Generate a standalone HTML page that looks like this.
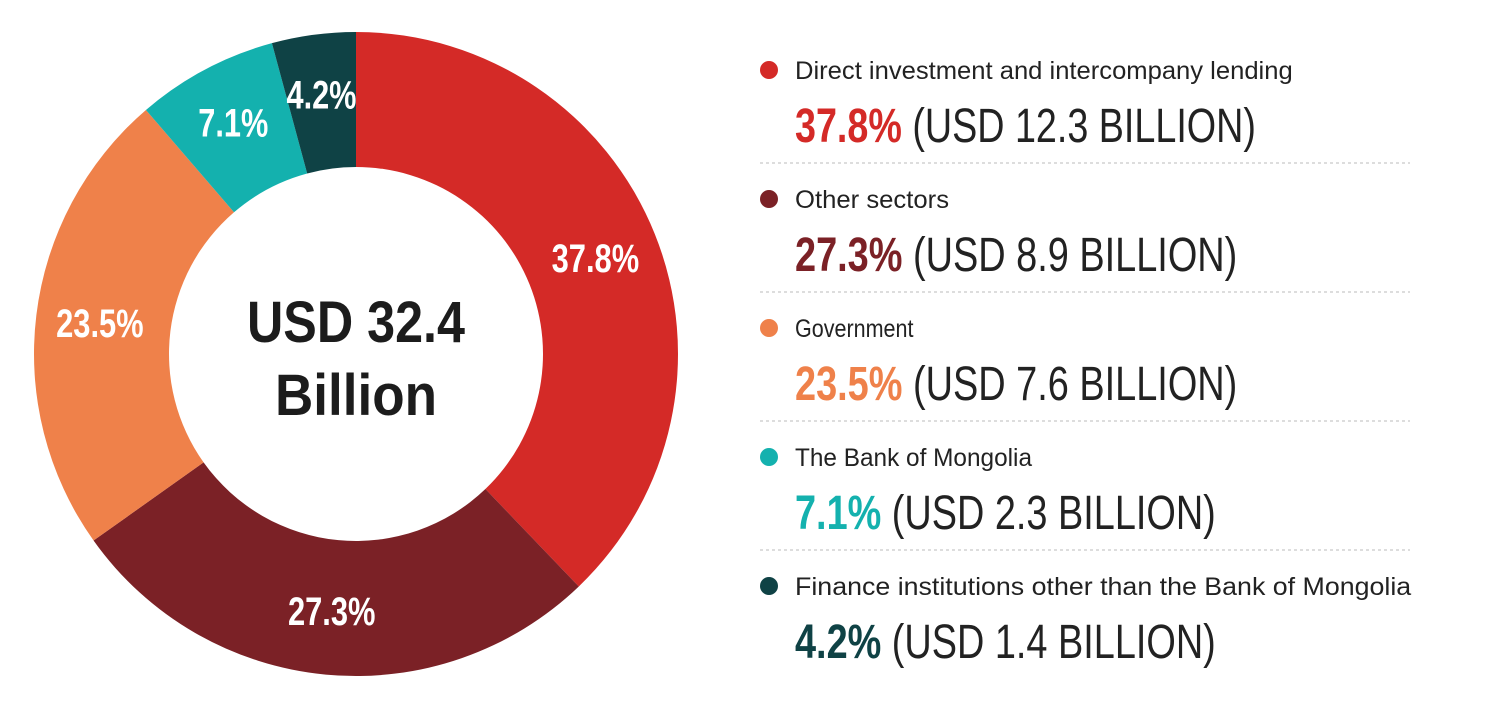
<!DOCTYPE html>
<html><head><meta charset="utf-8">
<style>
html,body{margin:0;padding:0;background:#fff;width:1500px;height:709px;overflow:hidden}
svg{display:block}
text{font-family:"Liberation Sans",sans-serif}
</style></head>
<body>
<svg id="chart" width="1500" height="709" viewBox="0 0 1500 709">
<g id="donut"></g>
<g id="center">
<text x="356" y="342" text-anchor="middle" font-size="58" font-weight="bold" fill="#1c1c1c" textLength="218" lengthAdjust="spacingAndGlyphs">USD 32.4</text>
<text x="356" y="415" text-anchor="middle" font-size="58" font-weight="bold" fill="#1c1c1c" textLength="162" lengthAdjust="spacingAndGlyphs">Billion</text>
</g>
<g id="legend"></g>
</svg>
<script>
const categories = ["Direct investment and intercompany lending","Other sectors","Government","The Bank of Mongolia","Finance institutions other than the Bank of Mongolia"];
const shares = [37.8, 27.3, 23.5, 7.1, 4.2];
const amounts = [12.3, 8.9, 7.6, 2.3, 1.4];
const colors = ["#d42a27","#7b2126","#ef814a","#14b1ae","#0f4245"];
const NS="http://www.w3.org/2000/svg";
const cx=356, cy=354, R=322, r=187;
const total=shares.reduce((a,b)=>a+b,0);
const donut=document.getElementById('donut');
const legend=document.getElementById('legend');
function pt(rad,ang){return [cx+rad*Math.sin(ang), cy-rad*Math.cos(ang)];}
let a0=0;
shares.forEach((v,i)=>{
  const a1=a0+v/total*2*Math.PI;
  const large=(a1-a0)>Math.PI?1:0;
  const [x0,y0]=pt(R,a0),[x1,y1]=pt(R,a1),[x2,y2]=pt(r,a1),[x3,y3]=pt(r,a0);
  const p=document.createElementNS(NS,'path');
  p.setAttribute('d',`M${x0},${y0}A${R},${R} 0 ${large} 1 ${x1},${y1}L${x2},${y2}A${r},${r} 0 ${large} 0 ${x3},${y3}Z`);
  p.setAttribute('fill',colors[i]);
  
  
  donut.appendChild(p);
  const am=(a0+a1)/2;
  const [lx,ly]=pt(i>=3?262:258,am);
  const t=document.createElementNS(NS,'text');
  t.setAttribute('x',lx);t.setAttribute('y',ly+14);
  t.setAttribute('text-anchor','middle');
  t.setAttribute('font-size','40');t.setAttribute('font-weight','bold');
  t.setAttribute('fill','#fff');
  const lbl=shares[i].toFixed(1)+'%';
  t.setAttribute('textLength', lbl.length*17.5);
  t.setAttribute('lengthAdjust','spacingAndGlyphs');
  t.textContent=lbl;
  
  
  donut.appendChild(t);
  a0=a1;
});
categories.forEach((c,i)=>{
  const y0=70+i*129;
  const g=document.createElementNS(NS,'g');
  
  
  const d=document.createElementNS(NS,'circle');
  d.setAttribute('cx',769);d.setAttribute('cy',y0);d.setAttribute('r',9);d.setAttribute('fill',colors[i]);
  
  
  g.appendChild(d);
  const t=document.createElementNS(NS,'text');
  t.setAttribute('x',795);t.setAttribute('y',y0+9);t.setAttribute('font-size','25');t.setAttribute('fill','#222');
  t.setAttribute('textLength', c.length*11.85);
  t.setAttribute('lengthAdjust','spacingAndGlyphs');
  t.textContent=c;
  
  
  g.appendChild(t);
  const v=document.createElementNS(NS,'text');
  v.setAttribute('x',795);v.setAttribute('y',y0+72);v.setAttribute('font-size','48');
  const pct=shares[i].toFixed(1)+'%', rest=' (USD '+amounts[i].toFixed(1)+' BILLION)';
  v.setAttribute('textLength', pct.length*21.5+rest.length*18.6);
  v.setAttribute('lengthAdjust','spacingAndGlyphs');
  const s1=document.createElementNS(NS,'tspan');s1.setAttribute('font-weight','bold');s1.setAttribute('fill',colors[i]);s1.textContent=pct;
  const s2=document.createElementNS(NS,'tspan');s2.setAttribute('fill','#222');s2.textContent=rest;
  v.appendChild(s1);v.appendChild(s2);
  
  
  g.appendChild(v);
  if(i<categories.length-1){
    const l=document.createElementNS(NS,'line');
    l.setAttribute('x1',760);l.setAttribute('x2',1410);l.setAttribute('y1',y0+93);l.setAttribute('y2',y0+93);
    l.setAttribute('stroke','#bbb');l.setAttribute('stroke-dasharray','3,3');
    
    
    g.appendChild(l);
  }
  legend.appendChild(g);
});
</script>
</body></html>
